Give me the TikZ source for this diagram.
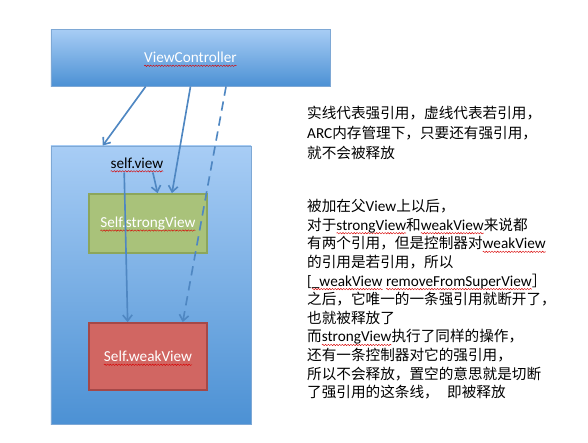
\documentclass[tikz,border=0pt]{standalone}
\usepackage{fontspec}
\setmainfont{Carlito}
\newfontfamily\zh[Scale=0.96]{Noto Sans CJK SC}
\usetikzlibrary{arrows.meta,calc,shadows,decorations.pathmorphing}
\definecolor{paneltop}{HTML}{A8CDF5}
\definecolor{panelbot}{HTML}{4C91D4}
\definecolor{panelline}{HTML}{7EA8D5}
\definecolor{greenfill}{HTML}{A9C27A}
\definecolor{greenline}{HTML}{8CA65C}
\definecolor{redfill}{HTML}{D16662}
\definecolor{redline}{HTML}{A54848}
\definecolor{refline}{HTML}{4F87C2}
\tikzset{spellwave/.style={draw=red!85!black,line width=0.35pt,decorate,
  decoration={snake,amplitude=0.6pt,segment length=2.4pt}}}
\newlength\spellwd
\newcommand\spell[1]{\settowidth\spellwd{#1}%
  \rlap{\tikz[overlay,baseline=0pt,x=1pt,y=1pt]\draw[spellwave] (0,-2.6) -- (\spellwd,-2.6);}#1}

\begin{document}
\begin{tikzpicture}[x=0.03cm,y=-0.03cm,font=\fontsize{13pt}{16pt}\selectfont,
  panel/.style={draw=panelline,line width=0.8pt,top color=paneltop,bottom color=panelbot,
    drop shadow={shadow xshift=0pt,shadow yshift=-1.2pt,opacity=0.3}},
  viewbox/.style={line width=1.5pt,minimum width=3.54cm,text=white},
  ref/.style={draw=refline,line width=1.4pt,-{Straight Barb[length=5pt,width=8pt]}},
  weakref/.style={ref,dash pattern=on 8pt off 5pt},
  note/.style={align=left,anchor=north west,inner sep=0pt}]
  \useasboundingbox (0,0) rectangle (588,442);

  \node[panel,minimum width=8.37cm,minimum height=1.71cm,text=white] (vc) at (190.5,57.5) {\spell{ViewController}};
  \node[panel,minimum width=6cm,minimum height=8.34cm] (selfview) at (151,285) {};
  \node (viewlabel) at (137,163) {\spell{self.view}};
  \node[viewbox,fill=greenfill,draw=greenline,minimum height=1.77cm] (strong) at (148,223.5) {\spell{Self.strongView}};
  \node[viewbox,fill=redfill,draw=redline,minimum height=2.01cm] (weak) at (148,356.5) {\spell{Self.weakView}};

  \draw[ref] ($(vc.south west)!0.34!(vc.south east)$) -- ($(selfview.north west)!0.26!(selfview.north east)$);
  \draw[ref] ($(vc.south west)!0.5!(vc.south east)$) -- ($(strong.north west)!0.7!(strong.north east)$);
  \draw[weakref] ($(vc.south west)!0.627!(vc.south east)$) -- ($(weak.north west)!0.79!(weak.north east)$);
  \draw[ref] ($(viewlabel.south west)!0.29!(viewlabel.south east)$) -- ($(weak.north west)!0.33!(weak.north east)$);
  \draw[ref] ($(viewlabel.south west)!0.76!(viewlabel.south east)$) -- ($(strong.north west)!0.58!(strong.north east)$);

  \node[note,font=\fontsize{13pt}{17pt}\selectfont] (legend) at (307,106) {%
    {\zh 实线代表强引用，虚线代表若引用，}\\
    ARC{\zh 内存管理下，只要还有强引用，}\\
    {\zh 就不会被释放}};
  \node[note,font=\fontsize{13pt}{15.9pt}\selectfont] (story) at (307,199) {%
    {\zh 被加在父}View{\zh 上以后，}\\
    {\zh 对于}\spell{strongView}{\zh 和}\spell{weakView}{\zh 来说都}\\
    {\zh 有两个引用，但是控制器对}\spell{weakView}\\
    {\zh 的引用是若引用，所以}\\
    {[}\spell{\_weakView} \spell{removeFromSuperView}{\zh ］}\\
    {\zh 之后，它唯一的一条强引用就断开了，}\\
    {\zh 也就被释放了}\\
    {\zh 而}\spell{strongView}{\zh 执行了同样的操作，}\\
    {\zh 还有一条控制器对它的强引用，}\\
    {\zh 所以不会释放，置空的意思就是切断}\\
    {\zh 了强引用的这条线，}\hspace{0.55em}{\zh 即被释放}};
\end{tikzpicture}
\end{document}
